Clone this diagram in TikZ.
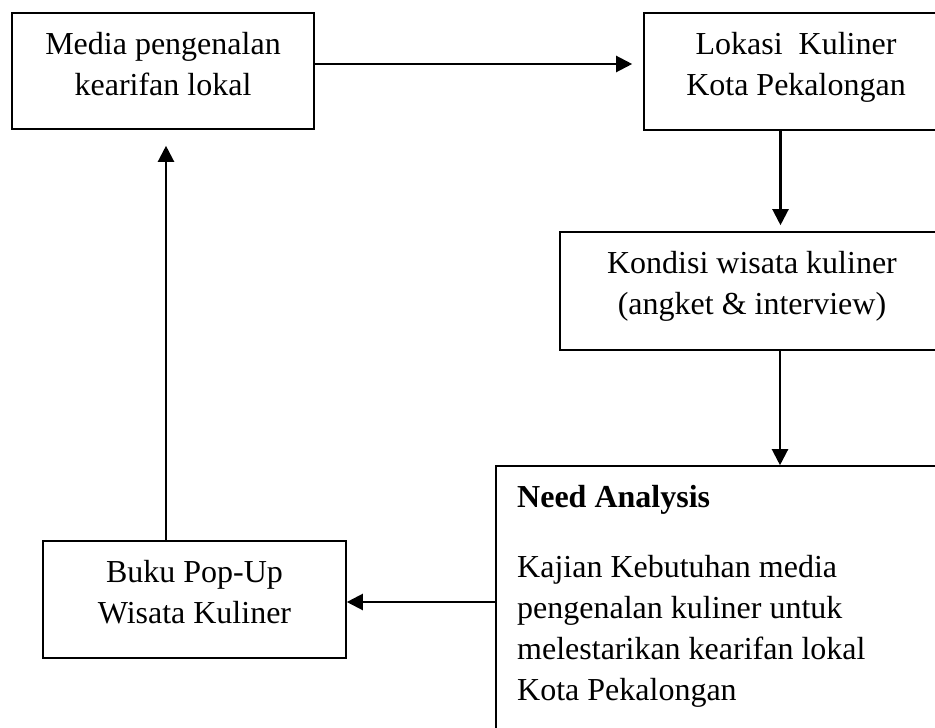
\documentclass[tikz,border=0pt]{standalone}
\usepackage{fontspec}
\setmainfont{Liberation Serif}
\usetikzlibrary{arrows.meta}
\tikzset{
  box/.style={draw=black, line width=1.6pt, rectangle, inner sep=0pt, fill=white},
  txt/.style={inner sep=0pt, font={\fontsize{32}{41}\selectfont}, align=center, anchor=north},
  arr/.style={line width=2.2pt, -{Triangle[length=16pt,width=16pt]}}
}
\begin{document}
\begin{tikzpicture}[x=1pt,y=-1pt]
\useasboundingbox (0,0) rectangle (935,728);
\fill[white] (0,0) rectangle (935,728);
\clip (0,0) rectangle (935,728);
% boxes
\node[box, minimum width=302pt, minimum height=116pt] (b1) at (163,71) {};
\node[box, minimum width=304pt, minimum height=117pt] (b2) at (796,71.5) {};
\node[box, minimum width=384pt, minimum height=118pt] (b3) at (752,291) {};
\node[box, minimum width=464pt, minimum height=272pt] (b4) at (728,602) {};
\node[box, minimum width=303pt, minimum height=117pt] (b5) at (194.5,599.5) {};
% texts
\node[txt] (t1) at (163,25.3) {\strut Media pengenalan\\kearifan lokal};
\node[txt] (t2) at (796,25.3) {\strut Lokasi\ \ Kuliner\\Kota Pekalongan};
\node[txt] (t3) at (752,244.3) {\strut Kondisi wisata kuliner\\(angket \& interview)};
\node[txt, align=left, anchor=north west] (t4) at (517,478.3) {\strut\textbf{Need Analysis}\\[29pt]Kajian Kebutuhan media\\pengenalan kuliner untuk\\melestarikan kearifan lokal\\Kota Pekalongan};
\node[txt] (t5) at (194.5,553.3) {\strut Buku Pop-Up\\Wisata Kuliner};
% connectors
\draw[arr, shorten >=11pt] ([yshift=7pt]b1.east) -- ([yshift=7pt]b1.east -| b2.west);
\draw[arr, shorten >=6pt] ([xshift=-15.5pt]b2.south) -- ([xshift=-15.5pt]b2.south |- b3.north);
\draw[arr] ([xshift=28pt]b3.south) -- ([xshift=28pt]b3.south |- b4.north);
\draw[arr] (b4.west) -- (b4.west -| b5.east);
\draw[arr, shorten >=16pt] ([xshift=-28.5pt]b5.north) -- ([xshift=-28.5pt]b5.north |- b1.south);
\end{tikzpicture}
\end{document}
